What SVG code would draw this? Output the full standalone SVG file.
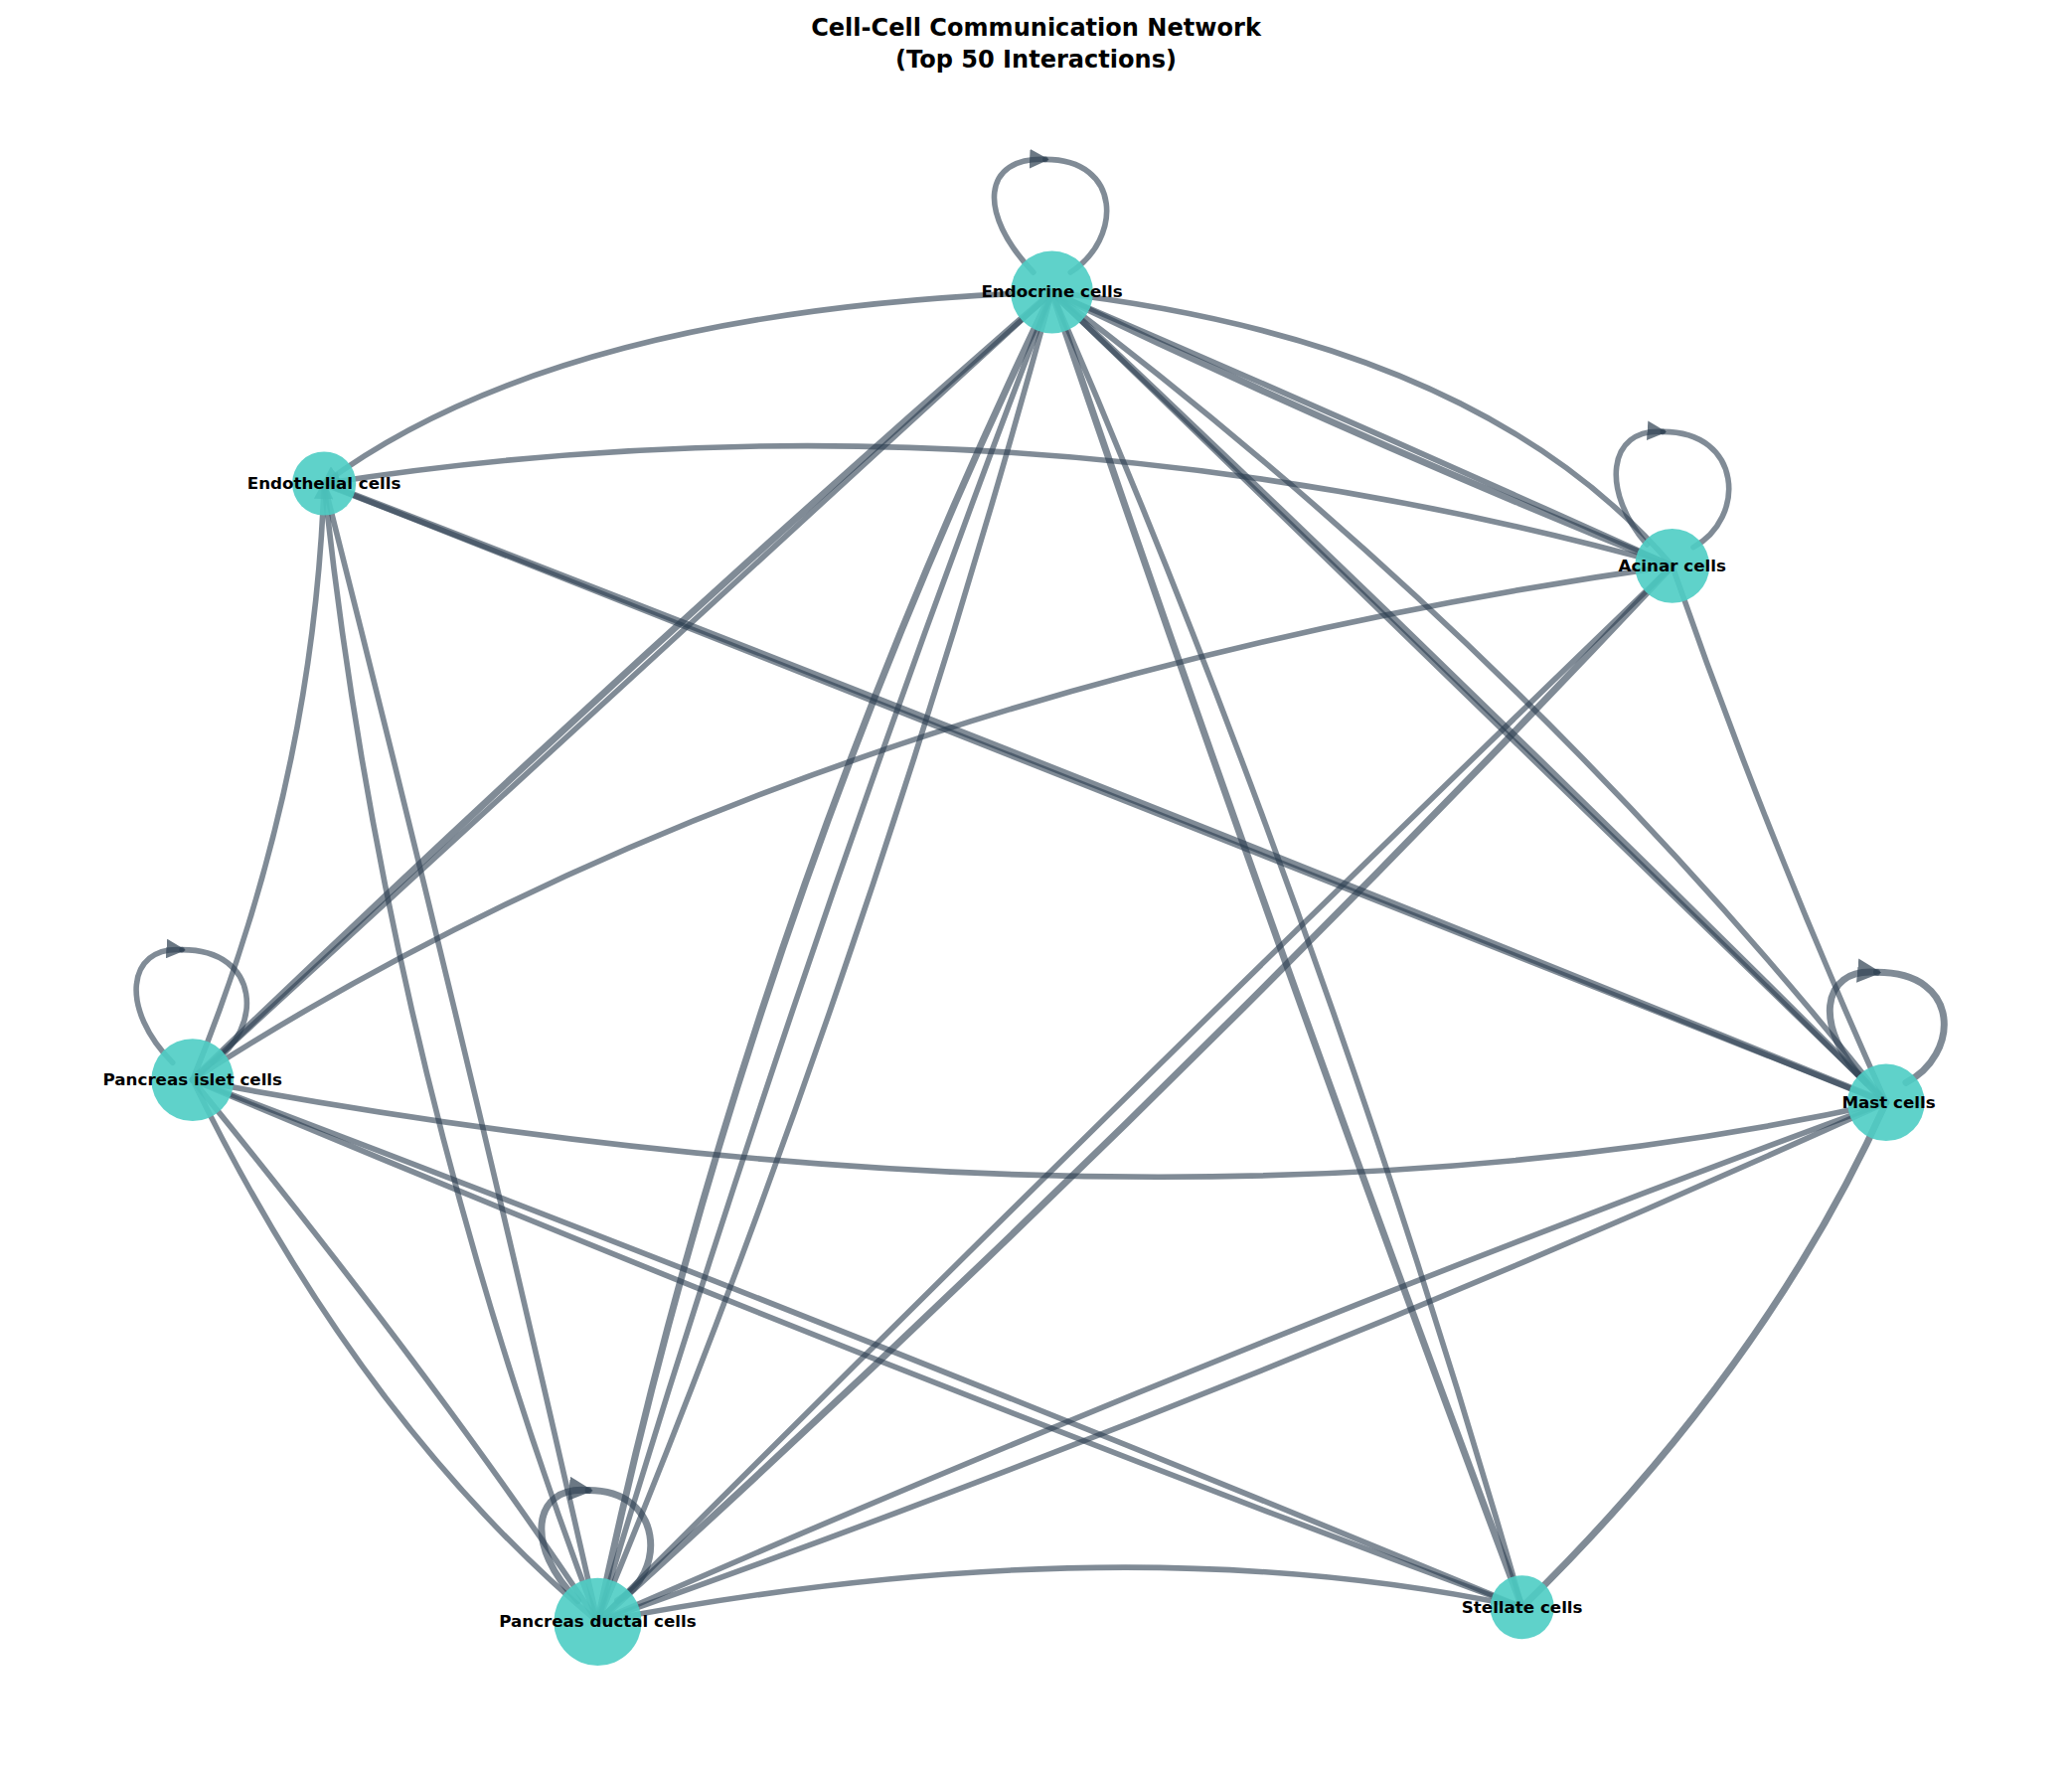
<svg xmlns="http://www.w3.org/2000/svg" width="2085" height="1783" viewBox="0 0 2085 1783">
<style>
.e{fill:none;stroke:#2c3e50;stroke-opacity:0.6;stroke-width:4.2;stroke-linecap:round}
.t{stroke-width:5.2}
.n{fill:#4ecdc4;fill-opacity:0.9}
.l{font-family:"DejaVu Sans",sans-serif;font-weight:bold;font-size:12.5px;text-anchor:middle;fill:#000}
.h{font-family:"DejaVu Sans",sans-serif;font-weight:bold;font-size:18px;text-anchor:middle;fill:#000}
</style>
<defs>
<marker id="a" viewBox="0 0 10 10" refX="8" refY="5" markerWidth="3.5" markerHeight="3.5" orient="auto"><path d="M0,0 L10,5 L0,10 z" fill="#2c3e50" fill-opacity="0.7"/></marker>
</defs>
<rect width="2085" height="1783" fill="#fff"/>
<g transform="scale(1.33654)">
<text class="h" x="780" y="27">Cell-Cell Communication Network</text>
<text class="h" x="780" y="51">(Top 50 Interactions)</text>
<g id="edges">
<path class="e" marker-end="url(#a)" d="M792,220 Q422,232 244,364"/>
<path class="e" d="M792,220 Q1115,257 1259,426"/>
<path class="e t" d="M792,220 Q1020,330 1259,426"/>
<path class="e" d="M792,220 Q1025,320 1259,426"/>
<path class="e" marker-end="url(#a)" d="M1259,426 Q750,285 244,364"/>
<path class="e t" d="M792,220 Q1110,520 1420,830"/>
<path class="e" d="M792,220 Q1105,525 1420,830"/>
<path class="e" d="M792,220 Q1150,490 1420,830"/>
<path class="e t" d="M792,220 Q960,715 1146,1210"/>
<path class="e" d="M792,220 Q1000,700 1146,1210"/>
<path class="e t" d="M792,220 Q560,700 450,1221"/>
<path class="e" d="M792,220 Q650,740 450,1221"/>
<path class="e" d="M792,220 Q600,720 450,1221"/>
<path class="e t" d="M792,220 Q470,500 145,813"/>
<path class="e" d="M792,220 Q475,510 145,813"/>
<path class="e t" d="M244,364 Q830,590 1420,830"/>
<path class="e" d="M244,364 Q833,595 1420,830"/>
<path class="e" marker-end="url(#a)" d="M145,813 Q236,590 244,364"/>
<path class="e" d="M244,364 Q290,800 450,1221"/>
<path class="e" d="M244,364 Q350,780 450,1221"/>
<path class="e" d="M1259,426 Q598,520 145,813"/>
<path class="e" d="M1259,426 Q850,820 450,1221"/>
<path class="e t" d="M1259,426 Q870,840 450,1221"/>
<path class="e" d="M1259,426 Q1330,630 1420,830"/>
<path class="e" d="M145,813 Q878,950 1420,830"/>
<path class="e" d="M145,813 Q640,1000 1146,1210"/>
<path class="e" d="M145,813 Q660,1030 1146,1210"/>
<path class="e" d="M145,813 Q270,1070 450,1221"/>
<path class="e" d="M145,813 Q330,1040 450,1221"/>
<path class="e" d="M1420,830 Q930,1010 450,1221"/>
<path class="e" d="M1420,830 Q960,1040 450,1221"/>
<path class="e t" d="M1146,1210 Q1330,1030 1420,830"/>
<path class="e" d="M450,1221 Q842,1145 1146,1210"/>
<path class="e" marker-end="url(#a)" d="M778,205 C735,160 740,118 787,120"/>
<path class="e" d="M787,120 C845,120 845,180 806,205"/>
<path class="e" marker-end="url(#a)" d="M1240,410 C1205,370 1210,322 1252,325"/>
<path class="e" d="M1252,325 C1312,325 1315,390 1275,412"/>
<path class="e" marker-end="url(#a)" d="M130,800 C90,760 95,712 137,715"/>
<path class="e" d="M137,715 C197,715 198,775 160,800"/>
<path class="e t" marker-end="url(#a)" d="M1405,815 C1365,775 1370,728 1413,732"/>
<path class="e t" d="M1413,732 C1478,732 1475,795 1435,815"/>
<path class="e t" marker-end="url(#a)" d="M435,1205 C395,1165 400,1118 443,1122"/>
<path class="e t" d="M443,1122 C500,1122 502,1185 465,1205"/>
</g>
<g id="n-endocrine"><ellipse class="n" cx="792" cy="220" rx="31" ry="31"/><text class="l" x="792" y="224">Endocrine cells</text></g>
<g id="n-endothelial"><ellipse class="n" cx="244" cy="364" rx="24" ry="24"/><text class="l" x="244" y="368">Endothelial cells</text></g>
<g id="n-acinar"><ellipse class="n" cx="1259" cy="426" rx="28" ry="28"/><text class="l" x="1259" y="430">Acinar cells</text></g>
<g id="n-islet"><ellipse class="n" cx="145" cy="813" rx="31" ry="31"/><text class="l" x="145" y="817">Pancreas islet cells</text></g>
<g id="n-mast"><ellipse class="n" cx="1420" cy="830" rx="29" ry="29"/><text class="l" x="1422" y="834">Mast cells</text></g>
<g id="n-ductal"><ellipse class="n" cx="450" cy="1221" rx="33" ry="33"/><text class="l" x="450" y="1225">Pancreas ductal cells</text></g>
<g id="n-stellate"><ellipse class="n" cx="1146" cy="1210" rx="24" ry="24"/><text class="l" x="1146" y="1214">Stellate cells</text></g>
</g>
</svg>
